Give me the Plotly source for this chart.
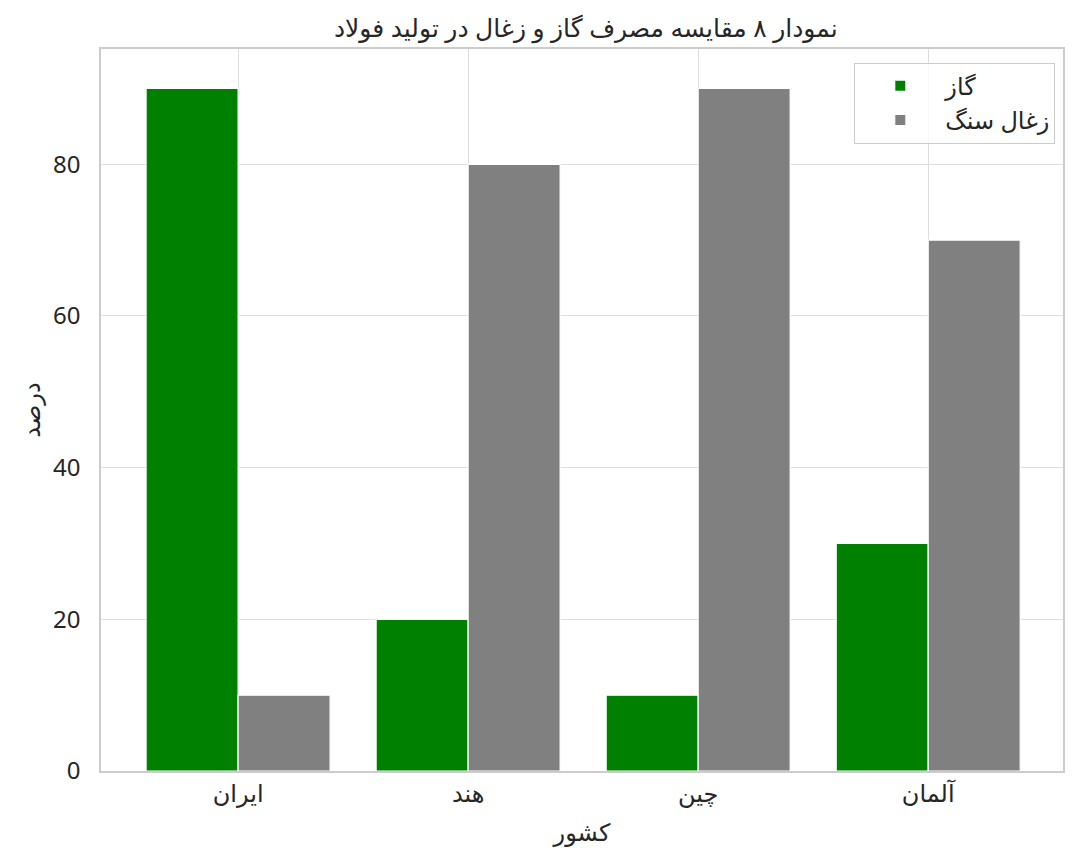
import plotly.graph_objects as go

categories = ["ایران", "هند", "چین", "آلمان"]
gas = [90, 20, 10, 30]
coal = [10, 80, 90, 70]
series_names = ["گاز", "زغال سنگ"]
title_text = "نمودار ۸ مقایسه مصرف گاز و زغال در تولید فولاد"
x_title = "کشور"
y_title = "درصد"

FONT = "Noto Sans, DejaVu Sans, sans-serif"

fig = go.Figure()
fig.add_trace(go.Bar(x=categories, y=gas, name=series_names[0],
                     marker=dict(color="#008000", line=dict(color="white", width=1.2))))
fig.add_trace(go.Bar(x=categories, y=coal, name=series_names[1],
                     marker=dict(color="#808080", line=dict(color="white", width=1.2))))

fig.update_layout(
    width=1080, height=868,
    margin=dict(l=93, r=25, t=41, b=105, autoexpand=False),
    paper_bgcolor="white", plot_bgcolor="white",
    font=dict(family=FONT, size=22, color="#262626"),
    title=dict(text=title_text, x=0.535, xanchor="center", y=0.977, yanchor="middle",
               font=dict(size=25, color="#262626")),
    barmode="group", bargap=0.2, bargroupgap=0,
    legend=dict(x=0.992, xanchor="right", y=0.981, yanchor="top",
                bordercolor="#cccccc", borderwidth=1, bgcolor="rgba(255,255,255,0.8)",
                font=dict(size=24), itemsizing="constant", itemwidth=80, tracegroupgap=0),
    showlegend=True,
)
fig.update_xaxes(range=[-0.596, 3.586], showgrid=True, gridcolor="#dddddd", gridwidth=1,
                 showline=True, linecolor="#cccccc", linewidth=1.5, mirror=True,
                 ticks="", tickfont=dict(size=24), automargin=False,
                 title=dict(text=x_title, font=dict(size=24), standoff=17))
fig.update_yaxes(range=[0, 95.2], tickvals=[0, 20, 40, 60, 80], showgrid=True,
                 gridcolor="#dddddd", gridwidth=1, zeroline=False,
                 showline=True, linecolor="#cccccc", linewidth=1.5, mirror=True,
                 ticks="", tickfont=dict(size=24), automargin=False, ticklabelstandoff=14,
                 title=dict(text=y_title, font=dict(size=24), standoff=6))

fig.write_html("out.html")
